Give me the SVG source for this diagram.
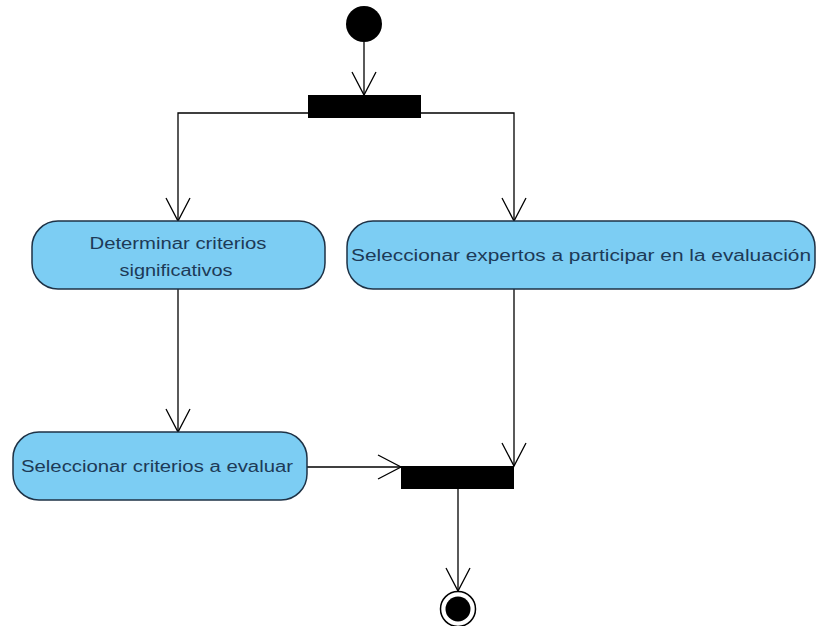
<svg xmlns="http://www.w3.org/2000/svg" width="817" height="626" viewBox="0 0 817 626">
<style>
.act{fill:#7ccdf3;stroke:#1e3246;stroke-width:1.5}
.lbl{font-family:"Liberation Sans",Arial,sans-serif;font-size:16px;fill:#1d3a57;text-anchor:middle}
.bar{fill:#000}
.edge{fill:none;stroke:#000;stroke-width:1.3}
</style>
<defs>
<marker id="arr" viewBox="0 0 26 26" refX="24" refY="13" markerWidth="26" markerHeight="26" markerUnits="userSpaceOnUse" orient="auto">
<path d="M1,1 L24,13 L1,25" fill="none" stroke="#000" stroke-width="1.3"/>
</marker>
</defs>
<rect width="817" height="626" fill="#fff"/>
<g id="connectors">
<path class="edge" d="M364,42 V95" marker-end="url(#arr)"/>
<path class="edge" d="M308,113 H178 V221" marker-end="url(#arr)"/>
<path class="edge" d="M421,113 H514 V221" marker-end="url(#arr)"/>
<path class="edge" d="M178,289 V432" marker-end="url(#arr)"/>
<path class="edge" d="M514,289 V466" marker-end="url(#arr)"/>
<path class="edge" d="M307,467 H401" marker-end="url(#arr)"/>
<path class="edge" d="M458,489 V591" marker-end="url(#arr)"/>
</g>
<g id="start"><circle cx="364" cy="24" r="18" fill="#000"/></g>
<g id="fork"><rect class="bar" x="308" y="95" width="113" height="23"/></g>
<g id="determinar">
<rect class="act" x="32" y="221" width="293" height="68" rx="26" ry="26"/>
<text class="lbl" x="178" y="249" textLength="177" lengthAdjust="spacingAndGlyphs">Determinar criterios</text>
<text class="lbl" x="176" y="276" textLength="113" lengthAdjust="spacingAndGlyphs">significativos</text>
</g>
<g id="seleccionar-expertos">
<rect class="act" x="347" y="221" width="468" height="68" rx="26" ry="26"/>
<text class="lbl" x="581" y="261" textLength="460" lengthAdjust="spacingAndGlyphs">Seleccionar expertos a participar en la evaluación</text>
</g>
<g id="seleccionar-criterios">
<rect class="act" x="13" y="432" width="294" height="68" rx="26" ry="26"/>
<text class="lbl" x="157" y="472" textLength="272" lengthAdjust="spacingAndGlyphs">Seleccionar criterios a evaluar</text>
</g>
<g id="join"><rect class="bar" x="401" y="466" width="113" height="23"/></g>
<g id="end">
<circle cx="458" cy="609" r="17.5" fill="#fff" stroke="#000" stroke-width="1.5"/>
<circle cx="458" cy="609" r="12.5" fill="#000"/>
</g>
</svg>
